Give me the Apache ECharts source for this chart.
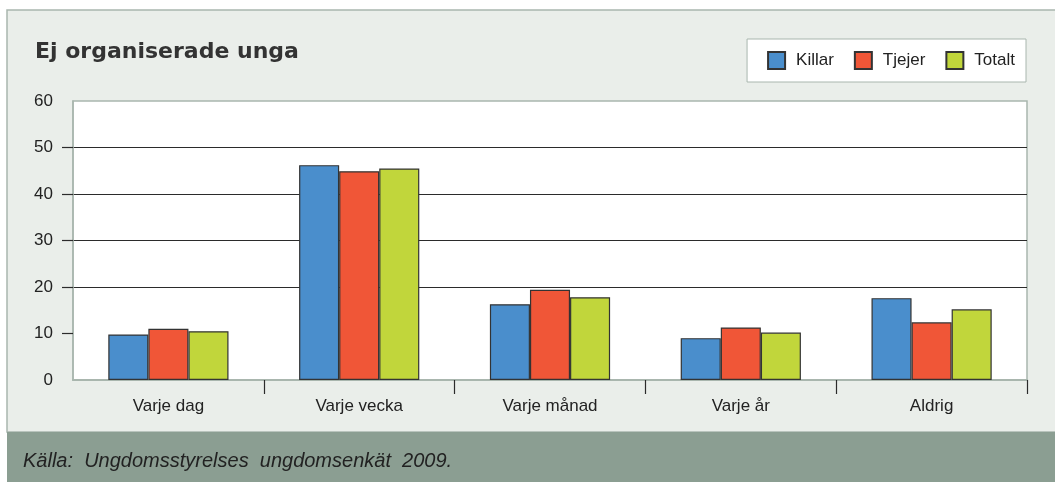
<!DOCTYPE html>
<html>
<head>
<meta charset="utf-8">
<script src="https://cdn.jsdelivr.net/npm/echarts@6/dist/echarts.min.js"></script>
<style>
  html, body { margin: 0; padding: 0; background: #fff; }
  #chart { width: 1055px; height: 482px; }
</style>
</head>
<body>
<div id="chart"></div>
<script>
// kategorier och värden (procent)
const categories = ['Varje dag', 'Varje vecka', 'Varje månad', 'Varje år', 'Aldrig']
const killar = [9.8, 46.2, 16.3, 9.0, 17.6]
const tjejer = [11.0, 44.9, 19.4, 11.3, 12.4]
const totalt = [10.5, 45.5, 17.8, 10.2, 15.2]
const yTicks = [0, 10, 20, 30, 40, 50, 60]
const innerTicks = [10, 20, 30, 40, 50]

const chart = echarts.init(document.getElementById('chart'), null, { renderer: 'canvas' })

const panelBg = '#eaeeea'
const borderGray = '#a9b6ae'
const dark = '#2b2b2b'
const font = '"Liberation Sans", Arial, sans-serif'

function bar(name, data, color) {
  return {
    name,
    type: 'bar',
    data,
    barGap: 0,
    barCategoryGap: '37%',
    itemStyle: { color, borderColor: '#333', borderWidth: 1.2 }
  }
}

const option = {
  backgroundColor: '#fff',
  animation: false,
  graphic: [
    // bakgrundspanel
    { type: 'rect', z: -10, shape: { x: 7, y: 10, width: 1060, height: 422 },
      style: { fill: panelBg, stroke: borderGray, lineWidth: 1.5 } },
    // källrad
    { type: 'rect', z: -9, shape: { x: 7, y: 432, width: 1060, height: 60 },
      style: { fill: '#8b9e92' } },
    { type: 'text', z: 5, left: 23, top: 451,
      style: { text: 'Källa:  Ungdomsstyrelses  ungdomsenkät  2009.', fill: '#222',
        font: 'italic 20px "Liberation Sans", Arial, sans-serif' } },
    // rubrik
    { type: 'text', z: 5, left: 35, top: 41,
      style: { text: 'Ej organiserade unga', fill: '#333',
        font: 'bold 22px "DejaVu Sans", sans-serif' } }
  ],
  legend: {
    right: 29,
    top: 39,
    padding: [12, 11, 12, 20],
    backgroundColor: '#fff',
    borderColor: borderGray,
    borderWidth: 1,
    itemWidth: 17,
    itemHeight: 17,
    itemGap: 20,
    icon: 'rect',
    textStyle: { fontFamily: font, fontSize: 17, color: '#222', padding: [0, 0, 0, 6] },
    data: ['Killar', 'Tjejer', 'Totalt']
  },
  grid: {
    left: 73,
    right: 28,
    top: 101,
    bottom: 102,
    show: true,
    backgroundColor: '#fff',
    borderColor: borderGray,
    borderWidth: 1.5
  },
  xAxis: {
    type: 'category',
    data: categories,
    axisLine: { lineStyle: { color: borderGray, width: 2 } },
    axisTick: {
      show: true, length: 14,
      interval: i => i !== 0,
      lineStyle: { color: dark, width: 1.2 }
    },
    axisLabel: { fontFamily: font, fontSize: 17, color: '#222', margin: 18 }
  },
  yAxis: {
    type: 'value',
    min: 0,
    max: 60,
    interval: 10,
    axisLine: { show: true, lineStyle: { color: borderGray, width: 1.5 } },
    axisTick: {
      show: true, length: 11, customValues: innerTicks,
      lineStyle: { color: dark, width: 1.2 }
    },
    axisLabel: {
      fontFamily: font, fontSize: 17, color: '#222', margin: 20,
      formatter: v => yTicks.includes(v) ? String(v) : ''
    },
    splitLine: {
      lineStyle: {
        color: ['transparent', dark, dark, dark, dark, dark, 'transparent'],
        width: 1.2
      }
    }
  },
  series: [
    bar('Killar', killar, '#4a8ecc'),
    bar('Tjejer', tjejer, '#f05637'),
    bar('Totalt', totalt, '#c1d63b')
  ]
}

chart.setOption(option)
</script>
</body>
</html>
